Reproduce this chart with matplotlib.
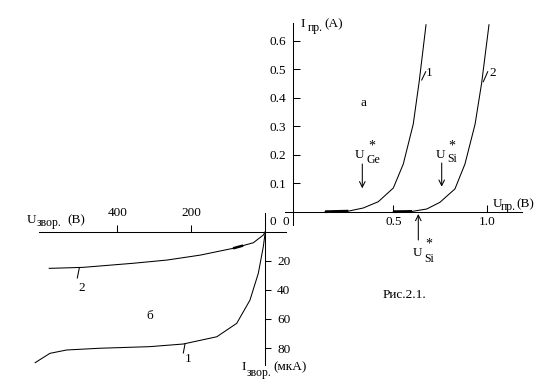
import numpy as np
import matplotlib
matplotlib.use("Agg")
import matplotlib.pyplot as plt
from matplotlib.lines import Line2D

# ---------------- data ----------------
# forward branch (upper right), U in V, I in A
fwd_v_ge = [0.137, 0.261, 0.340, 0.420, 0.500, 0.553, 0.606, 0.638, 0.674]
fwd_i_ge = [0.000, 0.002, 0.013, 0.035, 0.083, 0.167, 0.307, 0.458, 0.656]
fwd_v_si = [0.500, 0.600, 0.678, 0.748, 0.828, 0.881, 0.935, 0.970, 1.009]
fwd_i_si = [0.000, 0.001, 0.0095, 0.033, 0.080, 0.167, 0.307, 0.452, 0.656]
# reverse branch (lower left), U in V, I in uA
rev_v_1 = [0, 5.4, 18.9, 41.4, 77.3, 131, 222, 312, 447, 537, 582, 622]
rev_i_1 = [0, 10.3, 28.6, 47.0, 63.0, 72.2, 77.2, 79.0, 80.1, 81.3, 83.6, 90.0]
rev_v_2 = [0, 5.4, 32.4, 86.5, 176, 266, 357, 492, 584]
rev_i_2 = [0, 2.3, 7.6, 11.4, 16.1, 19.5, 21.7, 24.5, 25.2]

fwd_yticks = [0.1, 0.2, 0.3, 0.4, 0.5, 0.6]
fwd_yticklabels = ["0.1", "0.2", "0.3", "0.4", "0.5", "0.6"]
fwd_xticks = [0.5, 1.0]
fwd_xticklabels = ["0.5", "1.0"]
rev_xticks = [200, 400]
rev_xticklabels = ["200", "400"]
rev_yticks = [20, 40, 60, 80]
rev_yticklabels = ["20", "40", "60", "80"]

# ---------------- layout ----------------
W, H = 553, 386
FONT = "Liberation Serif"
plt.rcParams["font.family"] = [FONT, "DejaVu Serif"]
fig = plt.figure(figsize=(W / 100, H / 100), dpi=100)
LW = 0.75
FS = 9.5
FSS = 8.5


def P(x, y):
    return (x / W, 1 - y / H)


def place(xlim, ylim, x0, sx, y0, sy):
    pxs = [x0 + sx * v for v in xlim]
    pys = [y0 - sy * v for v in ylim]
    left, right = min(pxs), max(pxs)
    top, bottom = min(pys), max(pys)
    ax = fig.add_axes([left / W, 1 - bottom / H, (right - left) / W, (bottom - top) / H])
    ax.set_xlim(*xlim)
    ax.set_ylim(*ylim)
    ax.set_facecolor("none")
    return ax


# upper right: forward characteristic
ax1 = place((-0.1, 1.25), (-0.06, 0.68), 299.3, 188.0, 211.7, 285.0)
ax1.plot(fwd_v_ge, fwd_i_ge, color="black", lw=LW)
ax1.plot(fwd_v_si, fwd_i_si, color="black", lw=LW)
ax1.plot(fwd_v_ge[:2], fwd_i_ge[:2], color="black", lw=2.0, solid_capstyle="butt")
ax1.plot(fwd_v_si[:2], fwd_i_si[:2], color="black", lw=2.0, solid_capstyle="butt")
for s in ["top", "right"]:
    ax1.spines[s].set_visible(False)
ax1.spines["left"].set_position(("data", -0.035))
ax1.spines["left"].set_bounds(-0.047, 0.661)
ax1.spines["bottom"].set_position(("data", 0))
ax1.spines["bottom"].set_bounds(-0.075, 1.183)
for s in ["left", "bottom"]:
    ax1.spines[s].set_linewidth(LW)
ax1.set_yticks(fwd_yticks, fwd_yticklabels)
ax1.set_xticks(fwd_xticks, fwd_xticklabels)
ax1.tick_params(axis="y", direction="in", length=5, width=LW, pad=5, labelsize=FS)
ax1.tick_params(axis="x", direction="in", length=5, width=LW, pad=3, labelsize=FS)

# lower left: reverse characteristic
ax2 = place((650, -60), (95, -15), 265.3, -0.37, 231.7, -1.455)
ax2.plot(rev_v_1, rev_i_1, color="black", lw=LW)
ax2.plot(rev_v_2, rev_i_2, color="black", lw=LW)
vv = np.linspace(60, 87, 12)
ax2.plot(vv, np.interp(vv, rev_v_2, rev_i_2), color="black", lw=1.8, solid_capstyle="butt")
for s in ["bottom", "left"]:
    ax2.spines[s].set_visible(False)
ax2.spines["top"].set_position(("data", 0))
ax2.spines["top"].set_bounds(-56, 611)
ax2.spines["right"].set_position(("data", 0))
ax2.spines["right"].set_bounds(-12.9, 91.6)
for s in ["top", "right"]:
    ax2.spines[s].set_linewidth(LW)
ax2.xaxis.tick_top()
ax2.yaxis.tick_right()
ax2.set_xticks(rev_xticks, rev_xticklabels)
ax2.set_yticks(rev_yticks, rev_yticklabels)
ax2.tick_params(axis="x", direction="out", length=5, width=LW, pad=4.5, labelsize=FS)
ax2.tick_params(axis="y", direction="out", length=4, width=LW, pad=4.5, labelsize=FS)


# ---------------- text ----------------
def T(x, y, s, size=FS, ha="left", va="baseline"):
    fig.text(*P(x, y), s, fontsize=size, ha=ha, va=va, family=FONT, color="black")


def L(x0, y0, x1, y1):
    fig.add_artist(Line2D([x0 / W, x1 / W], [1 - y0 / H, 1 - y1 / H], color="black", lw=LW,
                          transform=fig.transFigure))


def A(x, y0, y1):
    fig.add_artist(matplotlib.patches.FancyArrowPatch(P(x, y0), P(x, y1), transform=fig.transFigure,
                                                      arrowstyle="->,head_length=4,head_width=2",
                                                      lw=LW, color="black", shrinkA=0, shrinkB=0))


# axis names
T(300.5, 27, "I"); T(307.5, 31.5, "пр.", FSS); T(324, 27, "(A)")
T(492.5, 207, "U"); T(501, 210, "пр.", FSS); T(516, 207, "(B)")
T(26.5, 223, "U"); T(37, 226, "звор.", FSS); T(67, 223, "(B)")
T(241, 370, "I"); T(246.5, 376, "звор.", FSS); T(273, 370, "(мкА)")
T(273, 225, "0", ha="center"); T(285.5, 225, "0", ha="center")

T(363.3, 105.5, "а", ha="center")
T(150, 319, "б", ha="center")
T(383, 298, "Рис.2.1.")

# curve numbers with leaders
T(429, 76, "1", ha="center"); L(421.7, 80, 425.7, 71.7)
T(492.5, 76, "2", ha="center"); L(483.3, 81.7, 487.7, 71.7)
T(81.7, 291, "2", ha="center"); L(77.3, 278, 79.3, 268)
T(188, 362, "1", ha="center"); L(183.3, 353, 185, 344)

# threshold voltages
T(355, 158, "U"); T(368.5, 149.5, "*", 10); T(366.5, 163, "Ge", FSS)
A(362.3, 164, 188.3)
T(436, 158, "U"); T(448.5, 149.5, "*", 10); T(447.5, 162.5, "Si", FSS)
A(441.7, 163, 186.7)
T(413, 256.5, "U"); T(425.5, 248, "*", 10); T(424.5, 262.5, "Si", FSS)
A(418.3, 240, 214)

fig.savefig("out.png", dpi=100)
